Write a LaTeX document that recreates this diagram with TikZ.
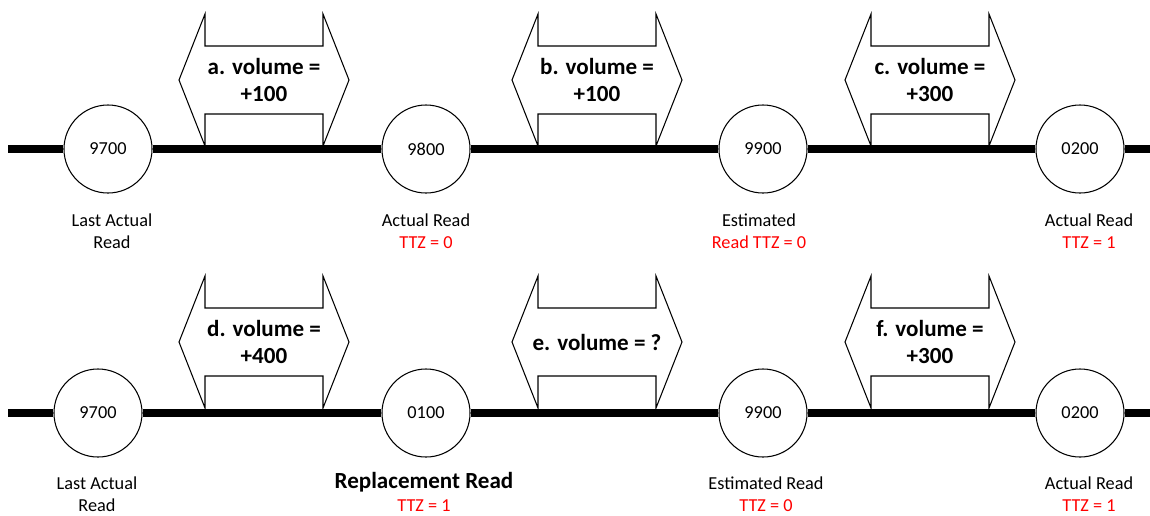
\documentclass[tikz,border=0pt]{standalone}
\usepackage{fontspec}
\setmainfont{Carlito}
\usepackage{tikz}
\usetikzlibrary{positioning}

\begin{document}
\begin{tikzpicture}[x=0.025cm, y=-0.025cm, font=\fontsize{13}{15.6}\selectfont]
  \tikzset{
    readpt/.style={circle, draw, fill=white, line width=0.75pt,
      minimum size=2.2cm, inner sep=0pt},
    timeline/.style={line width=5.3pt},
    volframe/.style={draw, line width=0.75pt, line join=miter},
    volshape/.style={insert path={+(-59,-66) -- +(-59,-34) -- +(59,-34)
      -- +(59,-66) -- +(85,0) -- +(59,66) -- +(59,34) -- +(-59,34)
      -- +(-59,66) -- +(-85,0) -- cycle}},
    voltext/.style={align=center, inner sep=0pt,
      font=\bfseries\fontsize{16.4}{19.4}\selectfont},
    readlbl/.style={align=center, inner sep=0pt},
  }
  \useasboundingbox (0,0) rectangle (1150,515);

  % first row
  \coordinate (s1) at (8,149);
  \coordinate (e1) at (1150,149);
  \node[readpt] (r1a) at (108,149) {9700};
  \node[readpt] (r1b) at (426,149) {9800};
  \node[readpt] (r1c) at (763,149) {9900};
  \node[readpt] (r1d) at (1080,149) {0200};
  \draw[timeline] (s1) -- (r1a) -- (r1b) -- (r1c) -- (r1d) -- (e1);

  \node[voltext] (va) at (264,80) {a. volume =\\+100};
  \node[voltext] (vb) at (597,80) {b. volume =\\+100};
  \node[voltext] (vc) at (930,80) {c. volume =\\+300};
  \draw[volframe] (va.center) [volshape];
  \draw[volframe] (vb.center) [volshape];
  \draw[volframe] (vc.center) [volshape];

  \node[readlbl] (l1a) at (112,231) {Last Actual\\Read};
  \node[readlbl] (l1b) at (426,231) {Actual Read\\{\color{red}TTZ = 0}};
  \node[readlbl] (l1c) at (759,231) {Estimated\\{\color{red}Read TTZ = 0}};
  \node[readlbl] (l1d) at (1089,231) {Actual Read\\{\color{red}TTZ = 1}};

  % second row
  \coordinate (s2) at (8,413);
  \coordinate (e2) at (1150,413);
  \node[readpt] (r2a) at (98,413) {9700};
  \node[readpt] (r2b) at (426,413) {0100};
  \node[readpt] (r2c) at (763,413) {9900};
  \node[readpt] (r2d) at (1080,413) {0200};
  \draw[timeline] (s2) -- (r2a) -- (r2b) -- (r2c) -- (r2d) -- (e2);

  \node[voltext] (vd) at (264,342) {d. volume =\\+400};
  \node[voltext] (ve) at (597,342) {e. volume = ?};
  \node[voltext] (vf) at (930,342) {f. volume =\\+300};
  \draw[volframe] (vd.center) [volshape];
  \draw[volframe] (ve.center) [volshape];
  \draw[volframe] (vf.center) [volshape];

  \node[readlbl] (l2a) at (97,494) {Last Actual\\Read};
  \node[readlbl, font=\bfseries\fontsize{16.4}{19.4}\selectfont]
    (l2b) at (424,482) {Replacement Read};
  \node[readlbl, text=red] (l2bt) at (424,506) {TTZ = 1};
  \node[readlbl] (l2c) at (766,494) {Estimated Read\\{\color{red}TTZ = 0}};
  \node[readlbl] (l2d) at (1089,494) {Actual Read\\{\color{red}TTZ = 1}};
\end{tikzpicture}
\end{document}
